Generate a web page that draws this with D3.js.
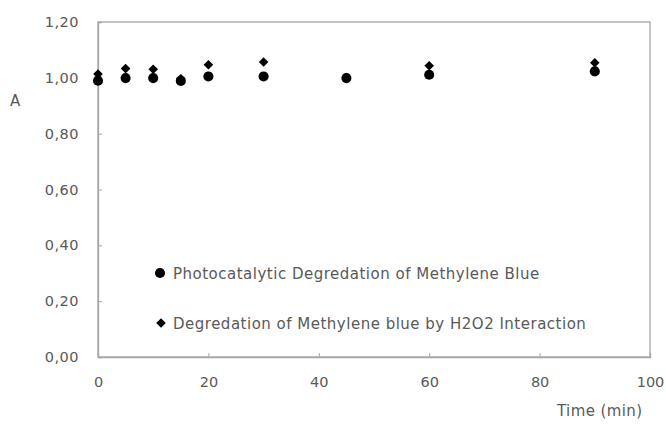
<!DOCTYPE html>
<html><head><meta charset="utf-8">
<script src="https://cdn.jsdelivr.net/npm/d3@7"></script>
<style>body{margin:0;background:#fff}text{font-family:"DejaVu Sans",sans-serif;fill:#595959}</style>
</head><body><svg id="c" width="666" height="426"></svg>
<script>
const times = [0, 5, 10, 15, 20, 30, 45, 60, 90];
const photoValues = [0.990, 0.999, 0.999, 0.989, 1.005, 1.005, 0.999, 1.011, 1.023];
const h2o2Values = [1.014, 1.033, 1.031, 0.997, 1.047, 1.057, 1.001, 1.043, 1.054];
const xTicks = [0, 20, 40, 60, 80, 100];
const yTicks = [0, 0.2, 0.4, 0.6, 0.8, 1.0, 1.2];
const seriesNames = ["Photocatalytic Degredation of Methylene Blue", "Degredation of Methylene blue by H2O2 Interaction"];

const svg = d3.select("#c");
const L = 98, R = 650, T = 22, B = 357;
const x = d3.scaleLinear().domain([0, 100]).range([L, R]);
const y = d3.scaleLinear().domain([0, 1.2]).range([B, T]);
const fmt = d => d.toFixed(2).replace(".", ",");

svg.append("rect").attr("x", L).attr("y", T).attr("width", R - L).attr("height", B - T)
  .attr("fill", "none").attr("stroke", "#a6a6a6").attr("stroke-width", 1.3);

const xa = svg.append("g").attr("transform", `translate(0,${B})`)
  .call(d3.axisBottom(x).tickValues(xTicks).tickSize(-4).tickPadding(20).tickFormat(d3.format("d")));
const ya = svg.append("g").attr("transform", `translate(${L},0)`)
  .call(d3.axisLeft(y).tickValues(yTicks).tickSize(-4).tickPadding(19).tickFormat(fmt));
[xa, ya].forEach(a => {
  a.select(".domain").attr("stroke", "#a6a6a6").attr("stroke-width", 1.3);
  a.selectAll(".tick line").attr("stroke", "#a6a6a6");
  a.selectAll(".tick text").style("font-size", "14.5px").attr("fill", "#595959").style("font-family", "DejaVu Sans");
});
ya.selectAll(".tick text").style("letter-spacing", "0.5px");

svg.append("text").attr("x", 10).attr("y", 106).style("font-size", "15px").text("A");
svg.append("text").attr("x", 557).attr("y", 416).style("font-size", "15px").style("letter-spacing", "0.4px").text("Time (min)");

const circ = d3.symbol().type(d3.symbolCircle).size(80);
const diam = d3.symbol().type(d3.symbolSquare).size(46);

svg.append("g").selectAll("path").data(times).join("path")
  .attr("d", circ).attr("transform", (d, i) => `translate(${x(d)},${y(photoValues[i])})`).attr("fill", "#000");
svg.append("g").selectAll("path").data(times).join("path")
  .attr("d", diam).attr("transform", (d, i) => `translate(${x(d)},${y(h2o2Values[i])}) rotate(45)`).attr("fill", "#000");

const lg = svg.append("g");
lg.append("path").attr("d", circ).attr("transform", "translate(160,273)");
lg.append("path").attr("d", diam).attr("transform", "translate(161,323) rotate(45)");
lg.append("text").attr("x", 173).attr("y", 278.5).style("font-size", "15px").style("letter-spacing", "0.5px").text(seriesNames[0]);
lg.append("text").attr("x", 173).attr("y", 328.5).style("font-size", "15px").style("letter-spacing", "0.5px").text(seriesNames[1]);
</script></body></html>
